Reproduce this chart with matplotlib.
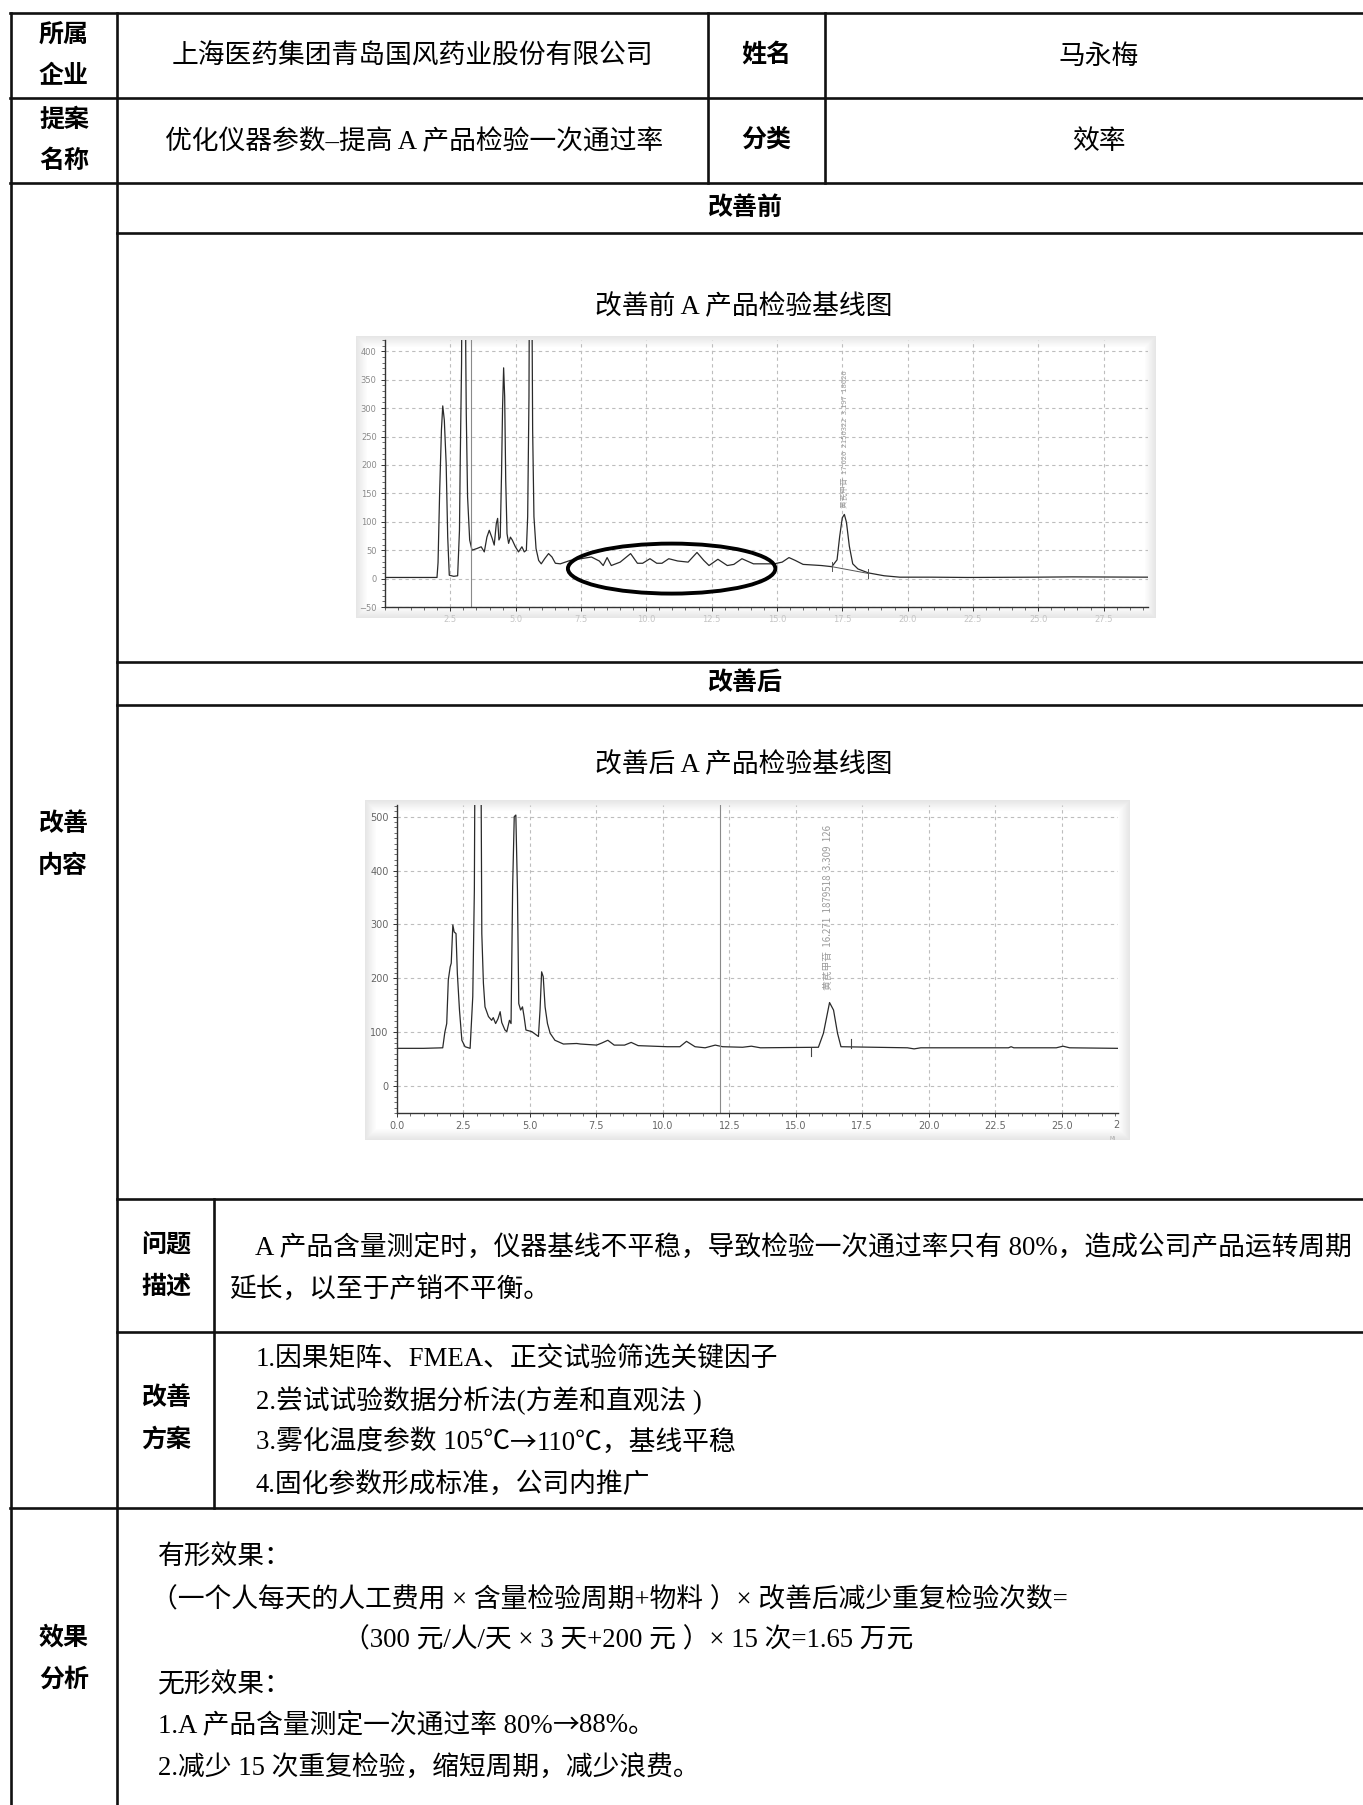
import matplotlib
matplotlib.use("Agg")
import matplotlib.pyplot as plt
from matplotlib.patches import Ellipse, Rectangle
from matplotlib.ticker import MultipleLocator, FormatStrFormatter

# ---------------- data ----------------
# chromatogram before improvement (time in min, signal)
before_t = [0.0, 1.0, 1.95, 1.99, 2.03, 2.09, 2.16, 2.21, 2.27, 2.34, 2.40, 2.46, 2.63, 2.78,
            2.85, 2.88, 2.93, 2.96, 3.07, 3.09, 3.11, 3.16, 3.24, 3.33, 3.52, 3.68, 3.80, 3.90,
            3.99, 4.10, 4.18, 4.26, 4.31, 4.36, 4.41, 4.46, 4.50, 4.54, 4.58, 4.62, 4.67, 4.73,
            4.80, 4.87, 4.99, 5.11, 5.24, 5.33, 5.41, 5.46, 5.51, 5.54, 5.60, 5.65, 5.70, 5.78,
            5.88, 5.98, 6.11, 6.26, 6.39, 6.52, 6.71, 6.90, 7.09, 7.50, 7.90, 8.20, 8.35, 8.50,
            8.66, 9.00, 9.40, 9.66, 9.86, 10.14, 10.40, 10.60, 10.86, 11.20, 11.60, 11.94, 12.20,
            12.40, 12.74, 13.10, 13.35, 13.66, 14.10, 14.90, 15.20, 15.46, 15.70, 16.00, 16.70,
            17.10, 17.30, 17.40, 17.50, 17.58, 17.66, 17.77, 17.90, 18.10, 18.50, 19.10, 19.70,
            20.90, 22.30, 24.90, 26.30, 29.20]
before_v = [2, 2, 2, 2, 28, 150, 262, 304, 279, 203, 73, 6, 4, 5,
            85, 209, 379, 700, 700, 400, 291, 144, 68, 50, 53, 56, 47, 73,
            85, 71, 59, 97, 106, 68, 73, 185, 303, 371, 320, 173, 79, 62,
            73, 68, 56, 47, 56, 47, 50, 109, 320, 700, 700, 262, 109, 53,
            32, 26, 35, 44, 38, 27, 26, 29, 32, 35, 38, 31, 23, 37,
            23, 29, 44, 27, 27, 35, 27, 27, 35, 31, 29, 46, 32,
            23, 34, 23, 25, 35, 26, 26, 29, 37, 32, 25, 23,
            21, 33, 74, 107, 113, 99, 57, 26, 17, 10, 5, 2.5,
            2.5, 2, 2.5, 3, 2.5]
before_int_t = [17.1, 18.5]   # integration baseline of the target peak
before_int_v = [21, 9]

# chromatogram after improvement
after_t = [0.0, 1.0, 1.72, 1.80, 1.87, 1.93, 2.00, 2.04, 2.10, 2.15, 2.22, 2.27, 2.35, 2.44,
           2.56, 2.75, 2.85, 2.91, 2.94, 3.15, 3.19, 3.25, 3.31, 3.44, 3.56, 3.62, 3.71, 3.80,
           3.88, 3.94, 4.06, 4.13, 4.23, 4.29, 4.35, 4.41, 4.47, 4.53, 4.58, 4.65, 4.72, 4.78,
           4.85, 5.07, 5.32, 5.38, 5.44, 5.50, 5.57, 5.66, 5.76, 5.94, 6.26, 6.76, 6.90, 7.51,
           7.71, 7.93, 8.17, 8.56, 8.81, 9.07, 10.17, 10.64, 10.89, 11.21, 11.59, 11.97, 12.25,
           13.00, 13.33, 13.67, 15.85, 16.04, 16.27, 16.42, 16.57, 16.70, 19.20, 19.45, 19.70,
           23.00, 23.10, 23.20, 24.80, 25.05, 25.30, 27.12]
after_v = [70, 70, 71, 100, 116, 197, 221, 228, 299, 286, 283, 209, 141, 85,
           73, 70, 166, 364, 700, 700, 283, 191, 147, 129, 122, 127, 116, 125,
           138, 118, 104, 101, 122, 116, 370, 500, 503, 364, 153, 141, 147, 129,
           104, 101, 92, 141, 212, 203, 147, 116, 98, 85, 78, 79, 78, 76,
           80, 85, 76, 76, 81, 75, 73, 73, 83, 73, 71, 76, 73,
           72, 74, 71, 72, 98, 155, 141, 98, 73, 71, 69, 71,
           71, 73, 71, 71, 74, 71, 70]
after_marks_t = [15.56, 17.08]
after_marks_v = [(55, 71), (71, 87)]

cursor_before = 3.29
cursor_after = 12.16
ellipse_center = (10.97, 17.6)
ellipse_size = (7.94, 88)

ann_before = "黄芪甲苷  17.626  2150322  3.197  18626"
ann_after = "黄芪甲苷  16.271  1879518  3.309  126"

# table texts
company = "上海医药集团青岛国风药业股份有限公司"
person = "马永梅"
proposal = "优化仪器参数–提高 A 产品检验一次通过率"
category = "效率"
title_before = "改善前 A 产品检验基线图"
title_after = "改善后 A 产品检验基线图"
problem_lines = ["A 产品含量测定时，仪器基线不平稳，导致检验一次通过率只有 80%，造成公司产品运转周期",
                 "延长，以至于产销不平衡。"]
plan_lines = ["1.因果矩阵、FMEA、正交试验筛选关键因子",
              "2.尝试试验数据分析法(方差和直观法 )",
              "3.雾化温度参数 105℃→110℃，基线平稳",
              "4.固化参数形成标准，公司内推广"]
effect_lines = ["有形效果：",
                "（一个人每天的人工费用 × 含量检验周期+物料 ）× 改善后减少重复检验次数=",
                "（300 元/人/天 × 3 天+200 元 ）× 15 次=1.65 万元",
                "无形效果：",
                "1.A 产品含量测定一次通过率 80%→88%。",
                "2.减少 15 次重复检验，缩短周期，减少浪费。"]

# ---------------- layout ----------------
W, H = 1363, 1805
fig = plt.figure(figsize=(W / 100, H / 100), dpi=100)
bg = fig.add_axes([0, 0, 1, 1])
bg.set_xlim(0, W)
bg.set_ylim(H, 0)
bg.axis("off")
renderer = fig.canvas.get_renderer()

LW = 1.9
LC = "#111111"
hlines = [(13, 10, W), (98, 10, W), (183, 10, W), (233, 117, W), (662, 117, W),
          (705, 117, W), (1199, 117, W), (1332, 117, W), (1508, 10, W)]
vlines = [(10.5, 13, H), (117, 13, H), (708, 13, 183), (825, 13, 183), (214, 1199, 1508)]
for y, x0, x1 in hlines:
    bg.plot([x0, x1], [y, y], color=LC, lw=LW, solid_capstyle="projecting")
for x, y0, y1 in vlines:
    bg.plot([x, x], [y0, y1], color=LC, lw=LW, solid_capstyle="projecting")

BOLD = ["Noto Sans CJK SC"]
BODY = ["Liberation Serif", "Noto Sans CJK SC", "DejaVu Sans"]
ARROWF = ["Noto Sans CJK SC", "DejaVu Sans"]
BS = 19.3
DY = 2.5   # body text baseline nudge


def head(x, y, s, size=18):
    bg.text(x, y, s, family=BOLD, fontweight="bold", fontsize=size, ha="center", va="center")


def body(x, y, s, ha="center", size=BS):
    return bg.text(x, y + DY, s, family=BODY, fontsize=size, ha=ha, va="center")


def body_arrow(x, y, s, size=BS):
    # render the arrow with the CJK font so it is full width like the original
    parts = s.split("→")
    for i, p in enumerate(parts):
        t = body(x, y, p, ha="left", size=size)
        x += t.get_window_extent(renderer).width
        if i < len(parts) - 1:
            a = bg.text(x, y + DY, "→", family=ARROWF, fontsize=size, ha="left", va="center")
            x += a.get_window_extent(renderer).width


head(64, 35, "所属"); head(64, 76, "企业")
head(64, 120, "提案"); head(64, 161, "名称")
head(766, 55, "姓名"); head(766, 140, "分类")
body(412, 55, company); body(1099, 55, person)
body(414, 140, proposal); body(1099, 140, category)
head(745, 208, "改善前"); head(745, 683, "改善后")
body(744, 305, title_before); body(744, 763, title_after)
head(63, 824, "改善"); head(63, 866, "内容")
head(166, 1245, "问题"); head(166, 1287, "描述")
head(166, 1398, "改善"); head(166, 1440, "方案")
head(64, 1638, "效果"); head(64, 1680, "分析")

body(255, 1245, problem_lines[0], ha="left")
body(229, 1287, problem_lines[1], ha="left")
for i, s in enumerate(plan_lines):
    if "→" in s:
        body_arrow(256, 1357 + i * 41.7, s)
    else:
        body(256, 1357 + i * 41.7, s, ha="left")
eff_x = [158, 151, 343, 158, 158, 158]
eff_y = [1555, 1598, 1638, 1683, 1723, 1765]
for x, y, s in zip(eff_x, eff_y, effect_lines):
    if "→" in s:
        body_arrow(x, y, s)
    else:
        body(x, y, s, ha="left")


# soft shadow frames around the two screenshots
def shadow(x0, y0, x1, y1, n=12):
    for k in range(n):
        c = min(1.0, 0.90 + k * 0.009)
        bg.add_patch(Rectangle((x0 + k, y0 + k), (x1 - x0) - 2 * k, (y1 - y0) - 2 * k,
                               facecolor=(c, c, c), edgecolor="none"))
    bg.add_patch(Rectangle((x0 + n, y0 + n), (x1 - x0) - 2 * n, (y1 - y0) - 2 * n,
                           facecolor="white", edgecolor="none"))


shadow(356, 336, 1156, 618)
shadow(365, 800, 1130, 1140)


def chart(px, t, v, xlim, ylim, xticks, yticks, xlab_color, ylab_color, fs):
    l, tp, r, b = px
    ax = fig.add_axes([l / W, 1 - b / H, (r - l) / W, (b - tp) / H])
    ax.set_facecolor("none")
    ax.plot(t, v, color="#2a2a2a", lw=0.9)
    ax.set_xlim(*xlim)
    ax.set_ylim(*ylim)
    ax.set_xticks(xticks)
    ax.set_yticks(yticks)
    ax.xaxis.set_major_formatter(FormatStrFormatter("%.1f"))
    ax.xaxis.set_minor_locator(MultipleLocator(0.5))
    ax.yaxis.set_minor_locator(MultipleLocator(10))
    ax.grid(True, which="major", color="#bdbdbd", lw=0.8, linestyle=(0, (3, 3)))
    for s in ["top", "right"]:
        ax.spines[s].set_visible(False)
    for s in ["left", "bottom"]:
        ax.spines[s].set_color("#333333")
        ax.spines[s].set_linewidth(1.0)
    ax.tick_params(which="major", length=3, width=0.7, color="#333333", labelsize=fs, pad=3)
    ax.tick_params(which="minor", length=2, width=0.5, color="#333333")
    ax.tick_params(axis="x", labelcolor=xlab_color)
    ax.tick_params(axis="y", labelcolor=ylab_color)
    for lab in ax.get_xticklabels() + ax.get_yticklabels():
        lab.set_family("DejaVu Sans")
    return ax


ax1 = chart((385, 340, 1148, 607), before_t, before_v, (0, 29.2), (-50, 420),
            [2.5 * i for i in range(1, 12)], list(range(-50, 401, 50)), "#c4c4c4", "#8a8a8a", 6)
ax1.axvline(cursor_before, color="#8a8a8a", lw=0.8)
ax1.plot(before_int_t, before_int_v, color="#555555", lw=0.7)
for tt, vv in zip(before_int_t, before_int_v):
    ax1.plot([tt, tt], [vv - 8, vv + 8], color="#555555", lw=0.7)
ax1.add_patch(Ellipse(ellipse_center, ellipse_size[0], ellipse_size[1], fill=False,
                      edgecolor="black", lw=2.8, clip_on=False, zorder=5))
ax1.text(17.6, 124, ann_before, rotation=90, fontsize=5.5, color="#9a9a9a",
         family=["Noto Sans CJK SC", "DejaVu Sans"], ha="center", va="bottom")

ax2 = chart((397, 805, 1118, 1113), after_t, after_v, (0, 27.12), (-50, 521.6),
            [2.5 * i for i in range(0, 11)], list(range(0, 501, 100)), "#666666", "#666666", 7)
ax2.axvline(cursor_after, color="#8a8a8a", lw=0.8)
for tt, (v0, v1) in zip(after_marks_t, after_marks_v):
    ax2.plot([tt, tt], [v0, v1], color="#444444", lw=0.8)
ax2.text(16.23, 178, ann_after, rotation=90, fontsize=7, color="#9a9a9a",
         family=["Noto Sans CJK SC", "DejaVu Sans"], ha="center", va="bottom")
bg.text(1116, 1125, "2", fontsize=7, color="#666666", ha="center", va="center")
bg.text(1113, 1139, "Mi", fontsize=4, color="#aaaaaa", ha="center", va="center")

fig.savefig("out.png", dpi=100)
